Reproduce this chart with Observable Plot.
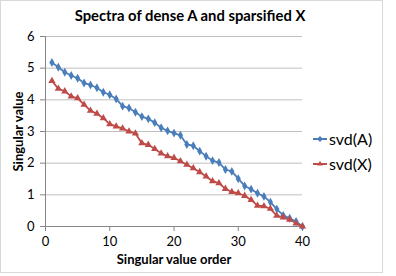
<!DOCTYPE html>
<html>
<head>
<meta charset="utf-8">
<script src="https://cdn.jsdelivr.net/npm/d3@7"></script>
<script src="https://cdn.jsdelivr.net/npm/@observablehq/plot@0.6"></script>
<style>
  html, body { margin: 0; padding: 0; background: #fff; }
  #wrap { position: relative; width: 396px; height: 276px; font-family: Lato, "Open Sans", sans-serif; }
  #frame { position: absolute; left: 0; top: 0; width: 383px; height: 273px; border: 1px solid #d9d9d9; box-sizing: border-box; pointer-events: none; }
  #title { height: 28px; line-height: 30px; text-align: center; width: 380px; font-weight: bold; font-size: 14.8px; color: #000; }
  #legend { position: absolute; left: 313px; top: 126px; font-size: 16px; color: #000; }
  .item { display: flex; align-items: center; height: 25px; }
  .item svg { margin-right: 2px; }
</style>
</head>
<body>
<div id="wrap">
  <div id="title">Spectra of dense A and sparsified X</div>
  <div id="chart"></div>
  <div id="legend"></div>
  <div id="frame"></div>
</div>
<script>
const order = d3.range(1, 41);
const svdA = [5.18,5.03,4.87,4.77,4.68,4.53,4.47,4.38,4.24,4.16,4.03,3.80,3.74,3.61,3.47,3.40,3.28,3.12,3.02,2.95,2.88,2.59,2.55,2.38,2.22,2.08,2.02,1.80,1.74,1.51,1.28,1.18,1.05,0.95,0.77,0.55,0.35,0.26,0.16,0.00];
const svdX = [4.60,4.35,4.27,4.11,4.05,3.85,3.66,3.56,3.42,3.23,3.16,3.10,3.00,2.94,2.63,2.58,2.45,2.31,2.22,2.17,2.06,1.95,1.84,1.72,1.58,1.43,1.37,1.19,1.09,1.05,0.97,0.84,0.66,0.64,0.56,0.34,0.29,0.22,0.10,0.00];
const seriesNames = ["svd(A)", "svd(X)"];
const seriesColors = ["#4a7ebb", "#be4b48"];
const xTicks = [0, 10, 20, 30, 40];
const yTicks = [0, 1, 2, 3, 4, 5, 6];

const rows = [];
order.forEach((o, i) => {
  rows.push({order: o, value: svdA[i], series: seriesNames[0]});
  rows.push({order: o, value: svdX[i], series: seriesNames[1]});
});

const chart = Plot.plot({
  width: 396,
  height: 248,
  marginLeft: 45,
  marginRight: 94,
  marginTop: 8,
  marginBottom: 50,
  style: {fontFamily: "Lato, 'Open Sans', sans-serif", fontSize: "12px", color: "#000", background: "transparent"},
  x: {domain: [0, 40]},
  y: {domain: [0, 6]},
  color: {domain: seriesNames, range: seriesColors},
  symbol: {domain: seriesNames, range: ["diamond", "triangle"]},
  marks: [
    Plot.gridY(yTicks.filter(d => d > 0), {stroke: "#bfbfbf", strokeOpacity: 1, strokeWidth: 1}),
    Plot.ruleY([0], {stroke: "#868686"}),
    Plot.ruleX([0], {stroke: "#868686"}),
    Plot.axisX(xTicks, {tickSize: 5, tickPadding: 5, stroke: "#868686", fontSize: 13, label: "Singular value order", labelAnchor: "center", labelArrow: "none", labelOffset: 37}),
    Plot.axisY(yTicks, {tickSize: 5, tickPadding: 6, stroke: "#868686", fontSize: 13, label: "Singular value", labelAnchor: "center", labelArrow: "none", labelOffset: 32}),
    Plot.line(rows, {x: "order", y: "value", z: "series", stroke: "series", strokeWidth: 1.8}),
    Plot.dot(rows, {x: "order", y: "value", fill: "series", symbol: "series", r: 2.7, stroke: "none"})
  ]
});
document.getElementById("chart").appendChild(chart);
chart.querySelectorAll("[aria-label='x-axis label'] text, [aria-label='y-axis label'] text").forEach(t => {
  t.setAttribute("font-weight", "bold");
  t.setAttribute("font-size", "13");
});

const legend = document.getElementById("legend");
seriesNames.forEach((name, i) => {
  const item = document.createElement("div");
  item.className = "item";
  const sw = d3.create("svg").attr("width", 14).attr("height", 10);
  sw.append("line").attr("x1", 0).attr("x2", 14).attr("y1", 5).attr("y2", 5).attr("stroke", seriesColors[i]).attr("stroke-width", 2);
  sw.append("path").attr("transform", "translate(7,5)").attr("fill", seriesColors[i])
    .attr("d", d3.symbol(i === 0 ? d3.symbolDiamond2 : d3.symbolTriangle2, 22)());
  item.appendChild(sw.node());
  const label = document.createElement("span");
  label.textContent = name;
  item.appendChild(label);
  legend.appendChild(item);
});
</script>
</body>
</html>
